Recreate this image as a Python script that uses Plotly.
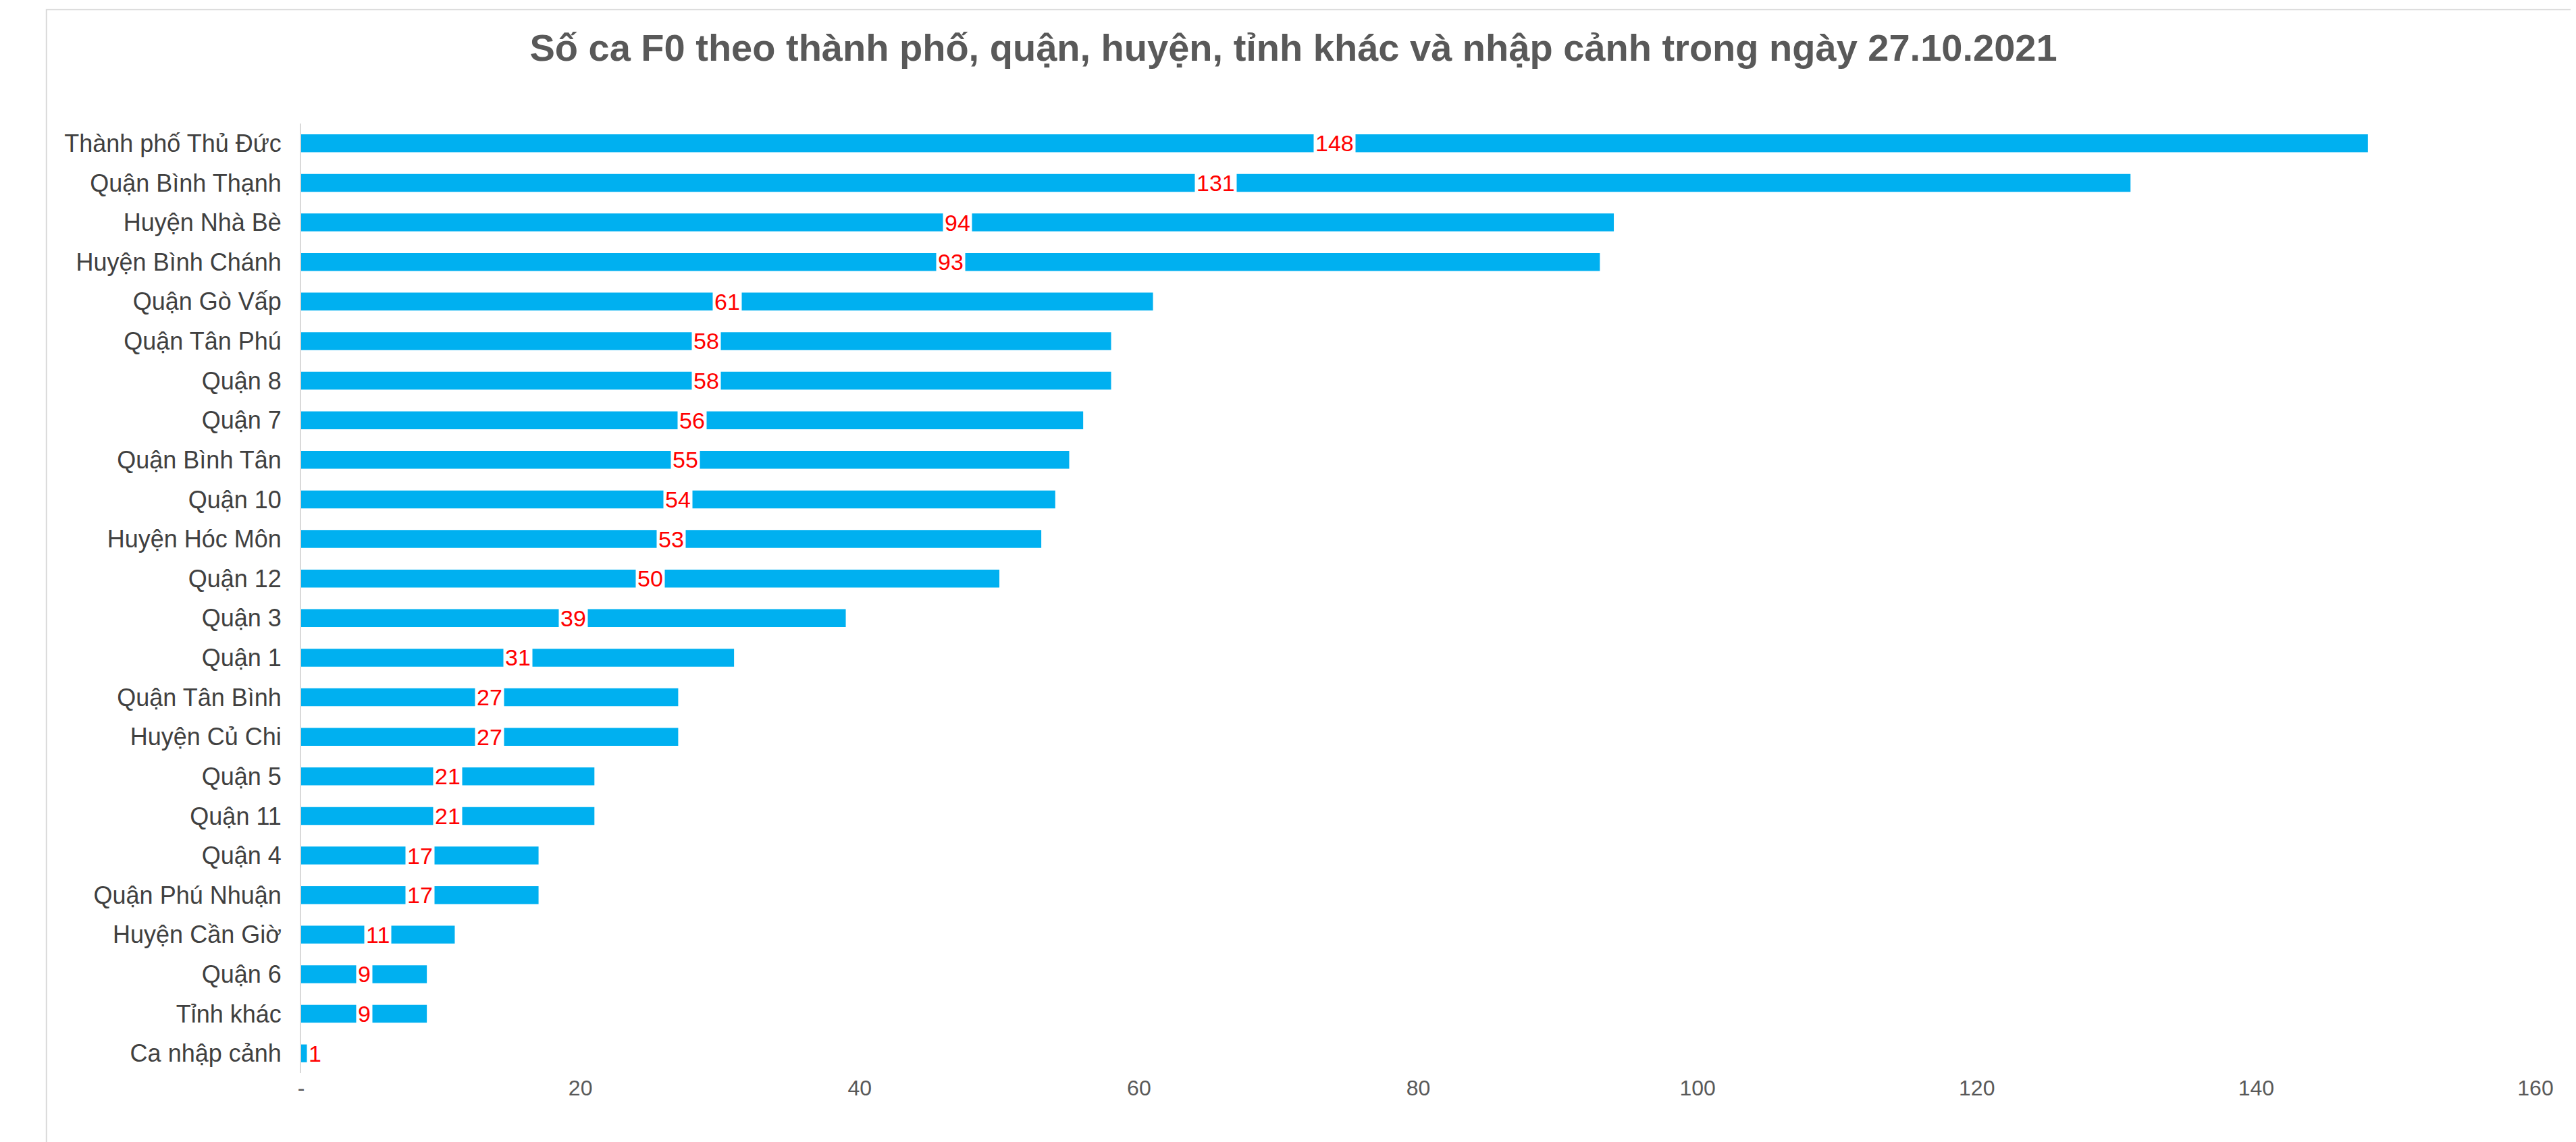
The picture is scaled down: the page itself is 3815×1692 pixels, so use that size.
import plotly.graph_objects as go

categories = [
    "Thành phố Thủ Đức", "Quận Bình Thạnh", "Huyện Nhà Bè", "Huyện Bình Chánh",
    "Quận Gò Vấp", "Quận Tân Phú", "Quận 8", "Quận 7", "Quận Bình Tân",
    "Quận 10", "Huyện Hóc Môn", "Quận 12", "Quận 3", "Quận 1",
    "Quận Tân Bình", "Huyện Củ Chi", "Quận 5", "Quận 11", "Quận 4",
    "Quận Phú Nhuận", "Huyện Cần Giờ", "Quận 6", "Tỉnh khác", "Ca nhập cảnh",
]
values = [148, 131, 94, 93, 61, 58, 58, 56, 55, 54, 53, 50, 39, 31,
          27, 27, 21, 21, 17, 17, 11, 9, 9, 1]
tick_vals = [0, 20, 40, 60, 80, 100, 120, 140, 160]
tick_text = ["-", "20", "40", "60", "80", "100", "120", "140", "160"]

font = "Liberation Sans, Arial, sans-serif"

fig = go.Figure(go.Bar(
    x=values, y=categories, orientation="h",
    marker=dict(color="#00B0F0", line=dict(width=0)),
    width=0.45, hoverinfo="x+y",
))

# value labels centred on each bar with a white box
for c, v in zip(categories, values):
    fig.add_annotation(
        x=v / 2 if v > 2 else v, y=c, text=str(v), showarrow=False,
        font=dict(family=font, size=34, color="#FF0000"),
        bgcolor="white", borderpad=2,
    )

fig.update_layout(
    width=3815, height=1692,
    paper_bgcolor="white", plot_bgcolor="white",
    margin=dict(l=438, r=68, t=175, b=110),
    title=dict(
        text="<b>Số ca F0 theo thành phố, quận, huyện, tỉnh khác và nhập cảnh trong ngày 27.10.2021</b>",
        x=0.5, xanchor="center", y=0.975, yanchor="top",
        font=dict(family=font, size=56, color="#595959"),
    ),
    xaxis=dict(
        range=[0, 160], tickvals=tick_vals, ticktext=tick_text,
        showgrid=False, zeroline=False, showline=False,
        tickfont=dict(family=font, size=32, color="#595959"),
    ),
    yaxis=dict(
        autorange="reversed", showgrid=False, zeroline=False,
        showline=True, linecolor="#D9D9D9", linewidth=2,
        ticks="", ticksuffix="  ",
        tickfont=dict(family=font, size=36, color="#404040"),
    ),
    shapes=[dict(type="rect", xref="paper", yref="paper",
                 x0=-0.114, x1=1.017, y0=-0.078, y1=1.12,
                 line=dict(color="#D9D9D9", width=2))],
    showlegend=False,
)

fig.write_html("out.html")
